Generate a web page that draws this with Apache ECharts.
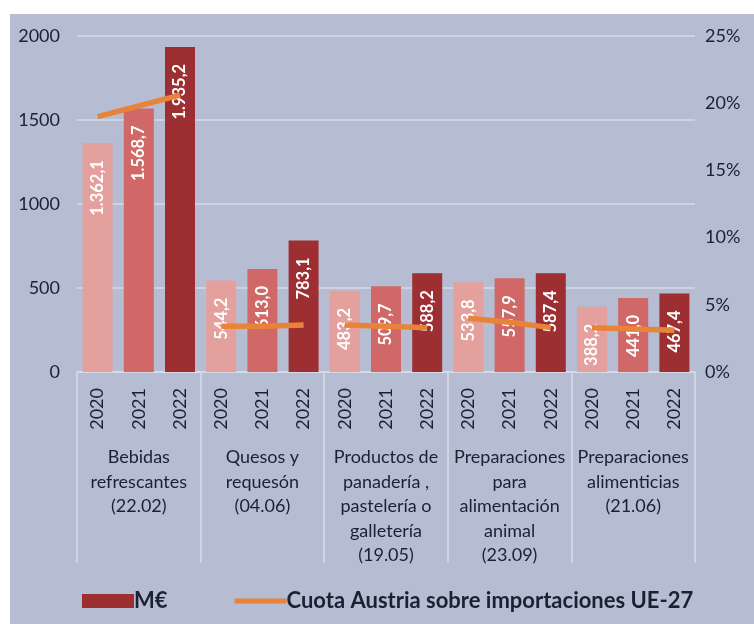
<!DOCTYPE html>
<html>
<head>
<meta charset="utf-8">
<script src="https://cdn.jsdelivr.net/npm/echarts@6/dist/echarts.min.js"></script>
<style>
  html, body { margin: 0; padding: 0; background: #fff; }
  #chart { position: absolute; left: 10px; top: 14px; width: 744px; height: 610px; background: #b6bcd2; }
</style>
</head>
<body>
<div id="chart"></div>
<script>
// data
var years = ['2020', '2021', '2022'];
var groups = [
  'Bebidas\nrefrescantes\n(22.02)',
  'Quesos y\nrequesón\n(04.06)',
  'Productos de\npanadería ,\npastelería o\ngalletería\n(19.05)',
  'Preparaciones\npara\nalimentación\nanimal\n(23.09)',
  'Preparaciones\nalimenticias\n(21.06)'
];
var valuesME = [
  1362.1, 1568.7, 1935.2,
  544.2, 613.0, 783.1,
  483.2, 509.7, 588.2,
  533.8, 557.9, 587.4,
  388.2, 441.0, 467.4
];
var shareAT = [
  19.0, 19.8, 20.6,
  3.4, 3.4, 3.5,
  3.5, 3.4, 3.3,
  4.0, 3.7, 3.3,
  3.3, 3.2, 3.1
];
var leftTicks = [0, 500, 1000, 1500, 2000];
var rightTicks = [0, 5, 10, 15, 20, 25];

var barName = 'M€';
var lineName = 'Cuota Austria sobre importaciones UE-27';
var yearColors = ['#e3a09d', '#cf6866', '#9d2f32'];
var orange = '#e8843a';
var textColor = '#1c2033';
var font = 'Lato';

var chart = echarts.init(document.getElementById('chart'));

// one category per bar, labelled by year
var cats = [];
groups.forEach(function (g, gi) {
  years.forEach(function (y) { cats.push(y + '_' + gi); });
});

function fmt(v) {
  var s = v.toFixed(1).split('.');
  var int = s[0].replace(/\B(?=(\d{3})+(?!\d))/g, '.');
  return int + ',' + s[1];
}

var barData = valuesME.map(function (v, i) {
  return { value: v, itemStyle: { color: yearColors[i % 3] } };
});

// a separate line piece for each group, so the segments don't join
var lineSeries = groups.map(function (g, gi) {
  var d = shareAT.map(function (v, i) {
    return Math.floor(i / 3) === gi ? v : '-';
  });
  return {
    name: lineName,
    type: 'line',
    xAxisIndex: 0,
    yAxisIndex: 1,
    data: d,
    symbol: 'none',
    color: orange,
    lineStyle: { width: 5.5, color: orange },
    z: 5
  };
});

var option = {
  animation: false,
  textStyle: { fontFamily: font },
  grid: { left: 67, right: 59, top: 22, bottom: 252 },
  legend: {
    data: [
      { name: barName, icon: 'rect' },
      { name: lineName, icon: 'path://M0,0 L52,0 L52,5 L0,5 Z', itemStyle: { color: orange } }
    ],
    left: 67,
    top: 571,
    itemWidth: 52,
    itemHeight: 14,
    itemGap: 67,
    textStyle: { color: textColor, fontSize: 22, fontWeight: 'bold', fontFamily: font, padding: [0, 0, 0, -5] }
  },
  xAxis: [
    {
      type: 'category',
      data: cats,
      axisLine: { lineStyle: { color: '#d6dbe7', width: 1.5 } },
      axisTick: { show: false },
      axisLabel: {
        rotate: 90,
        interval: 0,
        margin: 16,
        color: textColor,
        fontSize: 18,
        fontFamily: font,
        formatter: function (v) { return v.split('_')[0]; }
      }
    },
    {
      type: 'category',
      position: 'bottom',
      data: groups,
      axisLine: { show: false },
      axisTick: { show: true, length: 191, lineStyle: { color: '#d6dbe7', width: 1.5 } },
      axisLabel: {
        interval: 0,
        margin: 73,
        color: textColor,
        fontSize: 18,
        lineHeight: 24.5,
        fontFamily: font,
        align: 'center'
      }
    }
  ],
  yAxis: [
    {
      type: 'value',
      min: leftTicks[0],
      max: leftTicks[leftTicks.length - 1],
      interval: leftTicks[1] - leftTicks[0],
      axisLine: { show: false },
      axisTick: { show: false },
      splitLine: { lineStyle: { color: '#d6dbe7', width: 1.5 } },
      axisLabel: { color: textColor, fontSize: 18, margin: 17, fontFamily: font, formatter: function (v) { return String(v); } }
    },
    {
      type: 'value',
      min: rightTicks[0],
      max: rightTicks[rightTicks.length - 1],
      interval: rightTicks[1] - rightTicks[0],
      axisLine: { show: false },
      axisTick: { show: false },
      splitLine: { show: false },
      axisLabel: { color: textColor, fontSize: 18, margin: 10, fontFamily: font, formatter: '{value}%' }
    }
  ],
  series: [
    {
      name: barName,
      type: 'bar',
      data: barData,
      barWidth: 30,
      color: yearColors[2],
      itemStyle: { color: yearColors[2] },
      label: {
        show: true,
        position: 'insideTop',
        rotate: 90,
        align: 'right',
        verticalAlign: 'middle',
        distance: 17,
        color: '#fff',
        fontSize: 16.5,
        fontWeight: 'bold',
        fontFamily: font,
        formatter: function (p) { return fmt(p.value); }
      },
      z: 2
    }
  ].concat(lineSeries)
};

chart.setOption(option);
</script>
</body>
</html>
